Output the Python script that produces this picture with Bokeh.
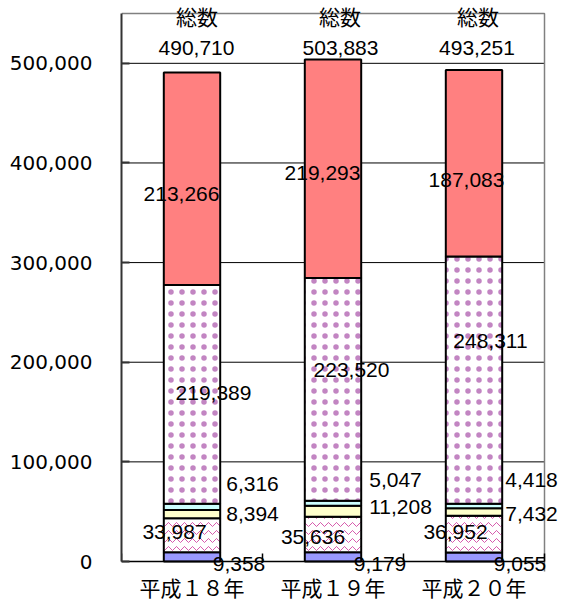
import numpy as np
from bokeh.plotting import figure
from bokeh.core.properties import value
from bokeh.models import (ColumnDataSource, LabelSet, FixedTicker,
                          NumeralTickFormatter, Range1d)
from bokeh.embed import file_html
from bokeh.resources import INLINE

# ---------------- data ----------------
categories = ["平成１８年", "平成１９年", "平成２０年"]
blue_vals = [9358, 9179, 9055]
pattern_vals = [33987, 35636, 36952]
yellow_vals = [8394, 11208, 7432]
cyan_vals = [6316, 5047, 4418]
dotted_vals = [219389, 223520, 248311]
red_vals = [213266, 219293, 187083]
totals = [490710, 503883, 493251]
total_title = "総数"
y_ticks = [0, 100000, 200000, 300000, 400000, 500000]
Y_MAX = 550000

series = [blue_vals, pattern_vals, yellow_vals, cyan_vals, dotted_vals, red_vals]
N = len(categories)

# ---------------- layout (pixels) ----------------
PX_LEFT, PX_RIGHT_AXIS, PX_FRAME_RIGHT = 121, 544, 563
PX_FRAME_TOP, PX_TOP_AXIS, PX_ZERO, PX_FRAME_BOTTOM = 2, 13, 561, 608
PX_BORDER_BOTTOM = 571
sy = (PX_ZERO - PX_TOP_AXIS) / Y_MAX          # px per unit
sx = (PX_RIGHT_AXIS - PX_LEFT) / N             # px per category
y_start = -(PX_FRAME_BOTTOM - PX_ZERO) / sy
y_end = Y_MAX + (PX_TOP_AXIS - PX_FRAME_TOP) / sy
x_end = N + (PX_FRAME_RIGHT - PX_RIGHT_AXIS) / sx
border_bottom = -(PX_BORDER_BOTTOM - PX_ZERO) / sy

styles = [
    dict(fill_color="#9999FF"),
    dict(fill_color="#FFFFFF", hatch_pattern="horizontal_wave", hatch_color="#CC3399",
         hatch_scale=8, hatch_weight=1, hatch_alpha=0.8),
    dict(fill_color="#FFFFCC"),
    dict(fill_color="#CCFFFF"),
    dict(fill_color="#FFFFFF", hatch_pattern="dot", hatch_color="#993399",
         hatch_scale=11, hatch_alpha=0.6),
    dict(fill_color="#FF8080"),
]

# label offsets in pixels (dx right, dy up) per series, per bar
label_dx = [[47, 47, 46], [-17.5, -20, -18.5], [60.5, 67.5, 57.5],
            [60.5, 62.5, 57.5], [21.5, 18.5, 16.5], [-10.5, -10.5, -7.5]]
label_dy = [[-7.5, -7.5, -7.5], [3, -2, 1.6], [0, 4, -2.5],
            [23, 23, 25.6], [1, 19, 39.6], [-15, -4, -17]]
total_dx = [4.5, 7.5, 3]
title_dx = [5, 7, 4]

FONT = "'Liberation Sans', 'Noto Sans CJK JP', sans-serif"
CJK_FONT = "'Noto Sans CJK JP', sans-serif"
TICK_FONT = "'DejaVu Sans', sans-serif"
FS = "21px"

xs = np.arange(N) + 0.5

p = figure(frame_width=PX_FRAME_RIGHT - PX_LEFT,
           frame_height=PX_FRAME_BOTTOM - PX_FRAME_TOP,
           x_range=Range1d(0, x_end), y_range=Range1d(y_start, y_end),
           output_backend="svg", toolbar_location=None,
           min_border_left=PX_LEFT, min_border_right=565 - PX_FRAME_RIGHT,
           min_border_top=PX_FRAME_TOP, min_border_bottom=610 - PX_FRAME_BOTTOM)
p.background_fill_color = "white"
p.border_fill_color = "white"
p.outline_line_color = None
p.xgrid.visible = False
p.ygrid.visible = False

# gridlines
p.segment(x0=0, x1=N, y0=y_ticks[1:], y1=y_ticks[1:], line_color="black",
          line_width=1)
# plot-area border (top and right)
p.line(x=[0, N, N], y=[Y_MAX, Y_MAX, border_bottom], line_color="#808080",
       line_width=1.5)

# bars
bottom = np.zeros(N)
lab_x, lab_y, lab_t, lab_dx, lab_dy = [], [], [], [], []
for k, vals in enumerate(series):
    v = np.array(vals, dtype=float)
    top = bottom + v
    src = ColumnDataSource(dict(x=xs, bottom=bottom, top=top))
    p.vbar(x="x", bottom="bottom", top="top", width=0.4, source=src,
           line_color="black", line_width=2, **styles[k])
    for i in range(N):
        lab_x.append(xs[i])
        lab_y.append((bottom[i] + top[i]) / 2)
        lab_t.append(f"{vals[i]:,}")
        lab_dx.append(label_dx[k][i])
        lab_dy.append(label_dy[k][i])
    bottom = top

lsrc = ColumnDataSource(dict(x=lab_x, y=lab_y, text=lab_t, dx=lab_dx, dy=lab_dy))
p.add_layout(LabelSet(x="x", y="y", text="text", x_offset="dx", y_offset="dy",
                      source=lsrc, text_align="center", text_baseline="middle",
                      text_font=value(FONT), text_font_size=FS,
                      text_color="black"))

tsrc = ColumnDataSource(dict(
    x=list(xs) * 2,
    y=[Y_MAX] * (2 * N),
    text=[f"{t:,}" for t in totals] + [total_title] * N,
    dx=total_dx + title_dx,
    dy=[-34.5] * N + [-4] * N,
))
p.add_layout(LabelSet(x="x", y="y", text="text", x_offset="dx", y_offset="dy",
                      source=tsrc, text_align="center", text_baseline="middle",
                      text_font=value(FONT), text_font_size=FS,
                      text_color="black"))

# y axis
p.yaxis.ticker = FixedTicker(ticks=y_ticks)
p.yaxis.bounds = (0, Y_MAX)
p.yaxis.formatter = NumeralTickFormatter(format="0,0")
p.yaxis.major_tick_in = 8
p.yaxis.major_tick_out = 0
p.yaxis.minor_tick_line_color = None
p.yaxis.major_label_standoff = 29
p.yaxis.axis_line_color = "#333333"
p.yaxis.axis_line_width = 2
p.yaxis.major_tick_line_color = "#333333"
p.yaxis.major_tick_line_width = 2
p.yaxis.major_label_text_font = TICK_FONT
p.yaxis.major_label_text_font_size = "20px"
p.yaxis.major_label_text_color = "black"

# x axis (drawn at value 0)
p.xaxis.fixed_location = 0
p.xaxis.bounds = (0, N)
p.xaxis.ticker = FixedTicker(ticks=list(xs), minor_ticks=list(range(N + 1)))
p.xaxis.major_label_overrides = {float(x): c for x, c in zip(xs, categories)}
p.xaxis.major_tick_in = 0
p.xaxis.major_tick_out = 0
p.xaxis.minor_tick_in = 8
p.xaxis.minor_tick_out = 0
p.xaxis.minor_tick_line_color = "black"
p.xaxis.minor_tick_line_width = 1.5
p.xaxis.axis_line_color = "black"
p.xaxis.axis_line_width = 1.5
p.xaxis.major_label_standoff = 10
p.xaxis.major_label_text_font = CJK_FONT
p.xaxis.major_label_text_font_size = FS
p.xaxis.major_label_text_color = "black"

open("out.html", "w").write(file_html(p, INLINE))
